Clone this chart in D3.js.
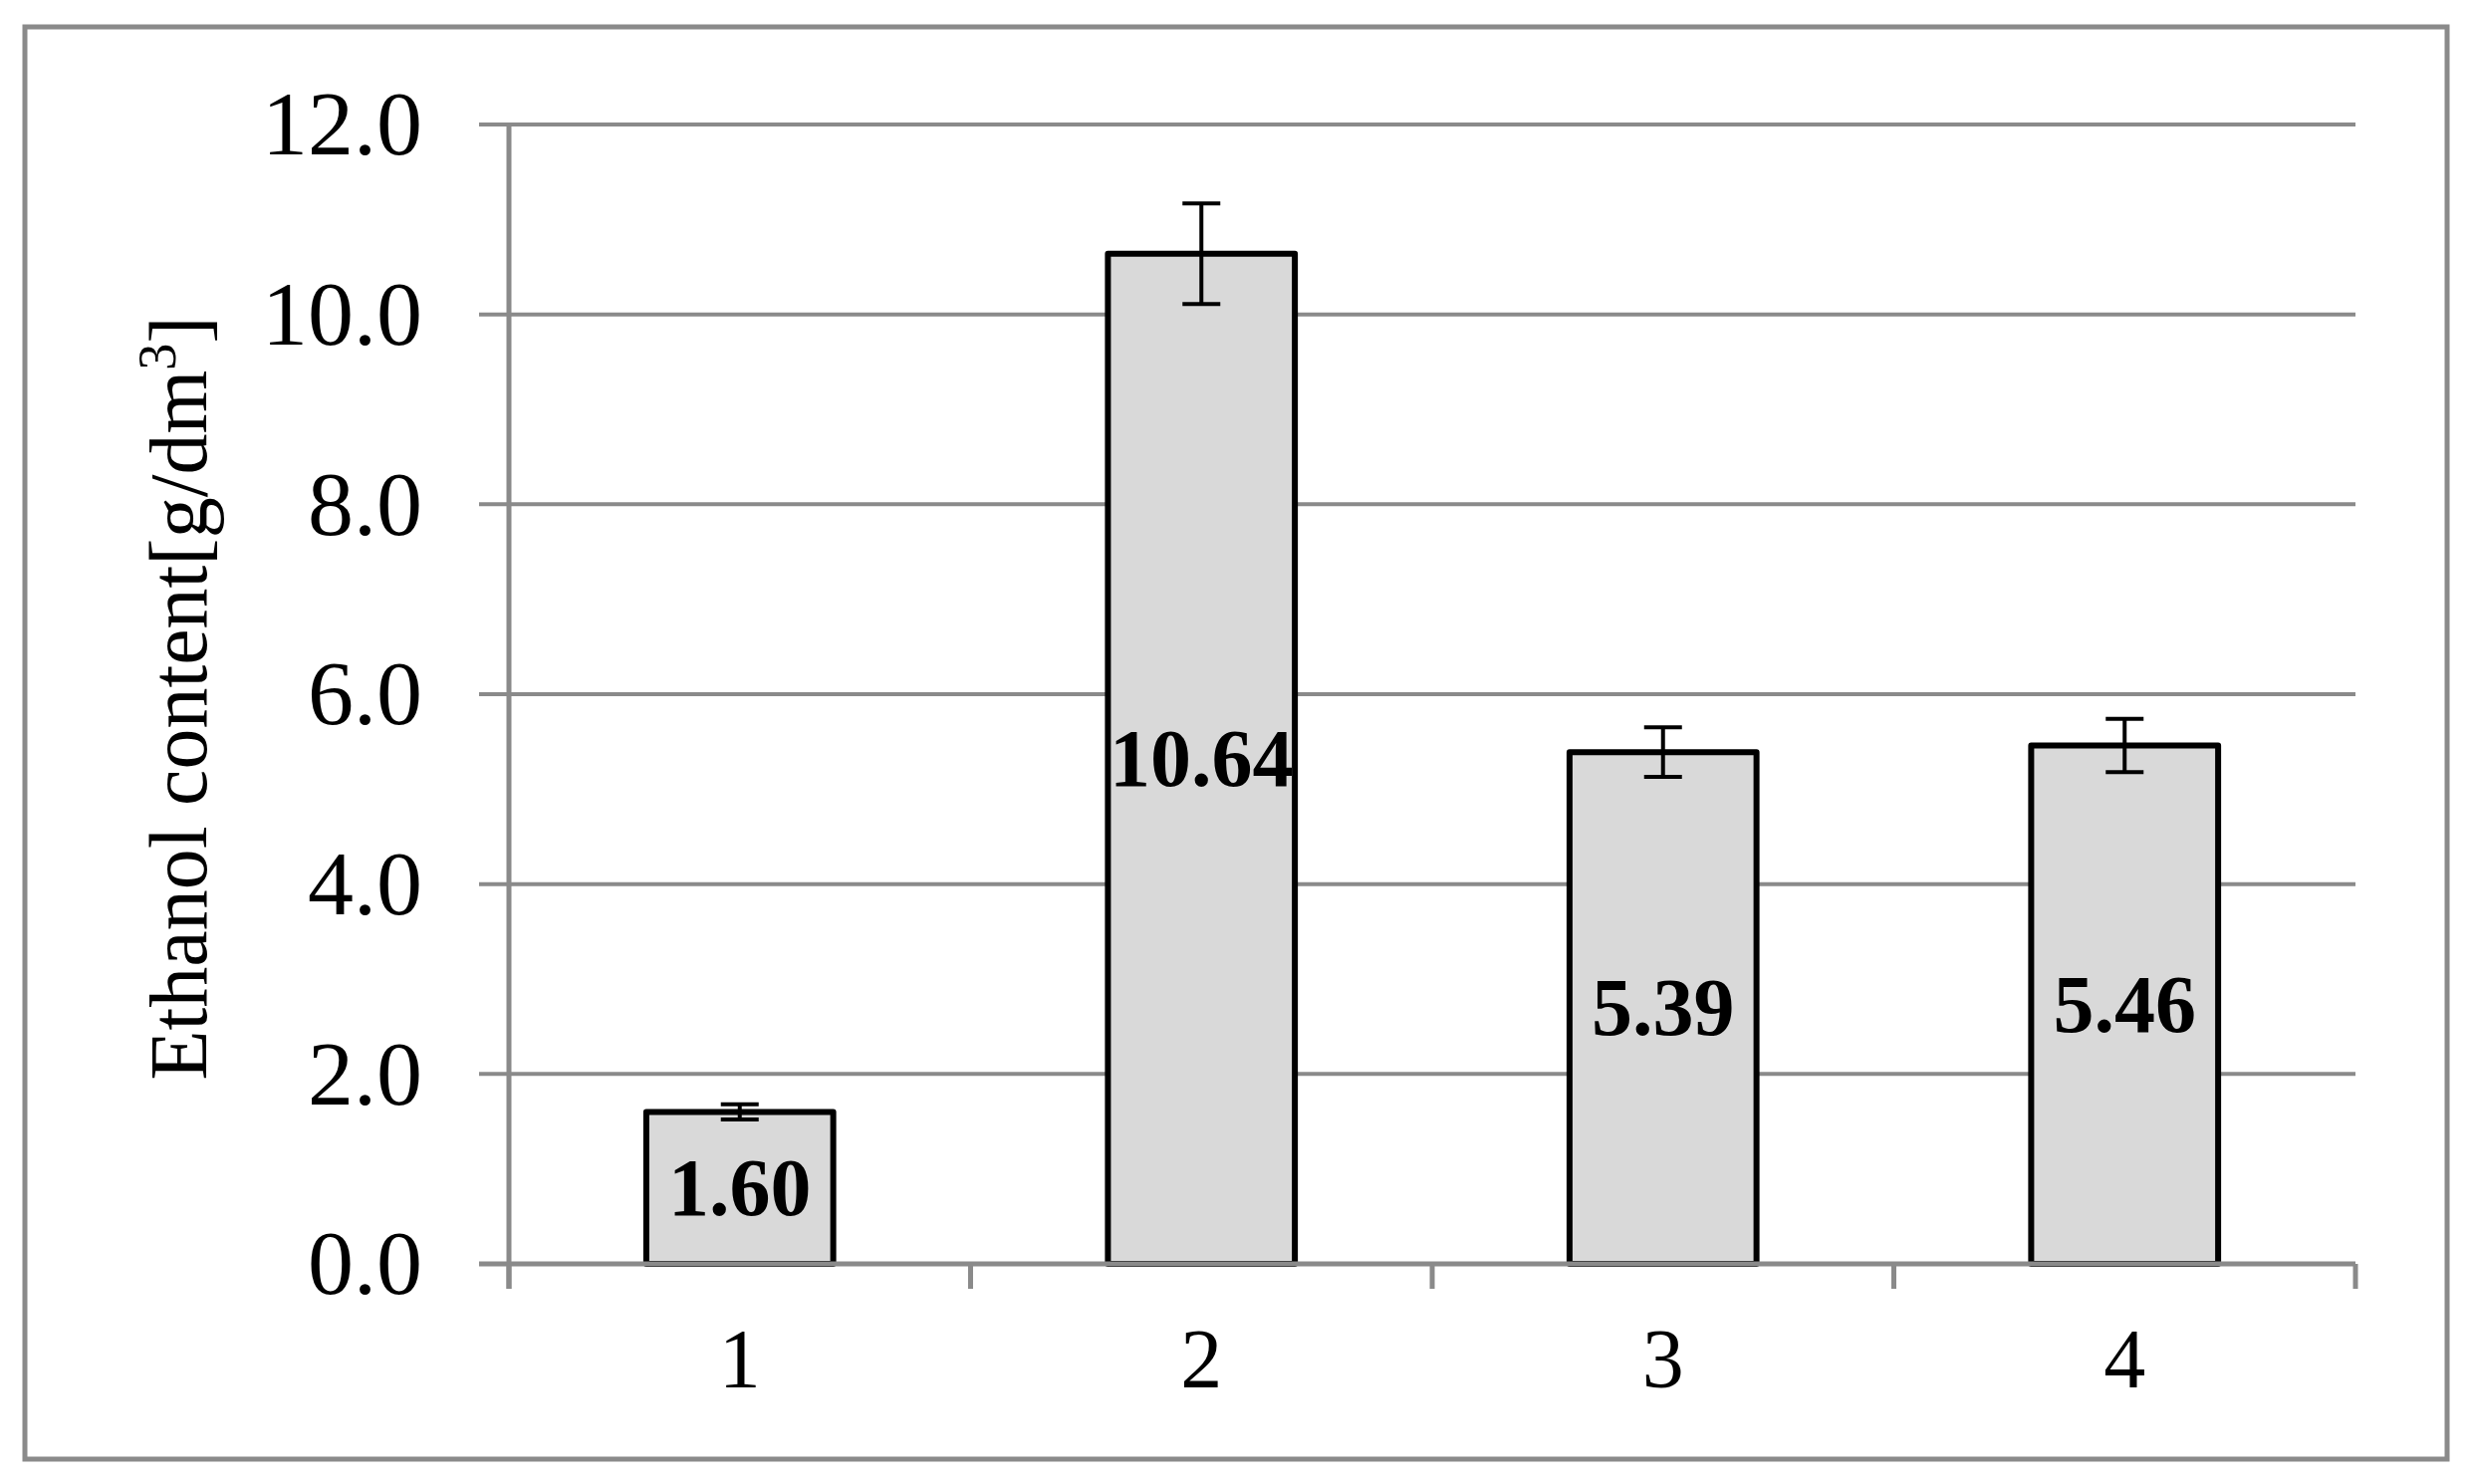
<!DOCTYPE html>
<html><head><meta charset="utf-8">
<script src="https://cdn.jsdelivr.net/npm/d3@7"></script>
<style>body{margin:0;background:#fff}svg{display:block}</style>
</head><body>
<svg id="chart" width="2482" height="1490"></svg>
<script>
const categories = ["1", "2", "3", "4"];
const values = [1.60, 10.64, 5.39, 5.46];
const errors = [0.08, 0.53, 0.26, 0.28];
const labels = ["1.60", "10.64", "5.39", "5.46"];
const yTicks = [0, 2, 4, 6, 8, 10, 12];
const yLabel = "Ethanol content[g/dm";

const svg = d3.select("#chart");
const font = "'Liberation Serif','Times New Roman',serif";
const gray = "#8a8a8a";
const L = 511, R = 2365, T = 125, B = 1269;

svg.append("rect").attr("x", 25).attr("y", 27).attr("width", 2432).attr("height", 1438)
  .attr("fill", "#fff").attr("stroke", gray).attr("stroke-width", 5);

const x = d3.scaleBand().domain(categories).range([L, R]).paddingInner(0.595).paddingOuter(0.2975);
const xb = d3.scaleBand().domain(categories).range([L, R]);
const y = d3.scaleLinear().domain([0, 12]).range([B, T]);

// gridlines
svg.append("g").selectAll("line").data(yTicks.filter(d => d > 0)).join("line")
  .attr("x1", L - 30).attr("x2", R).attr("y1", d => y(d)).attr("y2", d => y(d))
  .attr("stroke", gray).attr("stroke-width", 4);

// bars
svg.append("g").selectAll("rect").data(values).join("rect")
  .attr("x", (d, i) => x(categories[i])).attr("width", x.bandwidth())
  .attr("y", d => y(d)).attr("height", d => y(0) - y(d))
  .attr("fill", "#d9d9d9").attr("stroke", "#000").attr("stroke-width", 6)
  .attr("stroke-linejoin", "round");

// axes
svg.append("line").attr("x1", L - 30).attr("x2", R).attr("y1", B).attr("y2", B)
  .attr("stroke", gray).attr("stroke-width", 5);
svg.append("line").attr("x1", L).attr("x2", L).attr("y1", T).attr("y2", B + 25)
  .attr("stroke", gray).attr("stroke-width", 5);
const bounds = categories.map(c => xb(c)).concat([R]);
svg.append("g").selectAll("line").data(bounds).join("line")
  .attr("x1", d => d).attr("x2", d => d).attr("y1", B).attr("y2", B + 25)
  .attr("stroke", gray).attr("stroke-width", 5);

// error bars
const eg = svg.append("g").attr("stroke", "#000").attr("stroke-width", 4);
values.forEach((v, i) => {
  const cx = x(categories[i]) + x.bandwidth() / 2;
  const e = errors[i];
  eg.append("line").attr("x1", cx).attr("x2", cx).attr("y1", y(v + e)).attr("y2", y(v - e));
  eg.append("line").attr("x1", cx - 19).attr("x2", cx + 19).attr("y1", y(v + e)).attr("y2", y(v + e));
  eg.append("line").attr("x1", cx - 19).attr("x2", cx + 19).attr("y1", y(v - e)).attr("y2", y(v - e));
});

// value labels
svg.append("g").selectAll("text").data(values).join("text")
  .attr("x", (d, i) => x(categories[i]) + x.bandwidth() / 2)
  .attr("y", d => (y(d) + y(0)) / 2).attr("dy", "0.33em")
  .attr("text-anchor", "middle").attr("font-family", font).attr("font-weight", "bold")
  .attr("font-size", 82).attr("fill", "#000").text((d, i) => labels[i]);

// y tick labels
svg.append("g").selectAll("text").data(yTicks).join("text")
  .attr("x", 424).attr("y", d => y(d)).attr("dy", "0.33em")
  .attr("text-anchor", "end").attr("font-family", font).attr("font-size", 92)
  .attr("fill", "#000").text(d => d.toFixed(1));

// x tick labels
svg.append("g").selectAll("text").data(categories).join("text")
  .attr("x", d => x(d) + x.bandwidth() / 2).attr("y", 1393)
  .attr("text-anchor", "middle").attr("font-family", font).attr("font-size", 84)
  .attr("fill", "#000").text(d => d);

// y axis title
const yt = svg.append("text")
  .attr("transform", `translate(207,${(T + B) / 2 + 4}) rotate(-90)`)
  .attr("text-anchor", "middle").attr("font-family", font).attr("font-size", 82).attr("fill", "#000");
yt.append("tspan").text(yLabel);
yt.append("tspan").attr("font-size", 54).attr("dy", -31).text("3");
yt.append("tspan").attr("dy", 31).text("]");
</script>
</body></html>
